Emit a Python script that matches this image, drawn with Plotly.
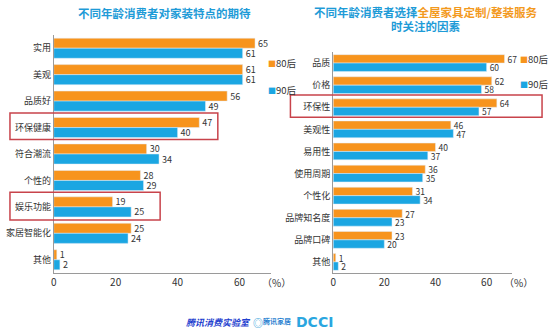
import plotly.graph_objects as go

# Left chart data
left_cats = ["实用", "美观", "品质好", "环保健康", "符合潮流", "个性的", "娱乐功能", "家居智能化", "其他"]
left_80 = [65, 61, 56, 47, 30, 28, 19, 25, 1]
left_90 = [61, 61, 49, 40, 34, 29, 25, 24, 2]

# Right chart data
right_cats = ["品质", "价格", "环保性", "美观性", "易用性", "使用周期", "个性化", "品牌知名度", "品牌口碑", "其他"]
right_80 = [67, 62, 64, 46, 40, 36, 31, 27, 23, 1]
right_90 = [60, 58, 57, 47, 37, 35, 34, 23, 20, 2]

series_names = ["80后", "90后"]
tick_vals = [0, 20, 40, 60]

ORANGE = "#F7941D"
BLUE = "#1BA6E2"
TITLE_BLUE = "#1E9BD7"
FONT = "Noto Sans CJK SC"
W, H = 550, 330

fig = go.Figure()
def common(size):
    return dict(orientation="h", textposition="outside", cliponaxis=False, constraintext="none",
                textfont=dict(size=size, color="#333333", family=FONT), showlegend=False)

fig.add_trace(go.Bar(y=left_cats, x=left_80, name=series_names[0], marker_color=ORANGE,
                     text=left_80, xaxis="x", yaxis="y", **common(9)))
fig.add_trace(go.Bar(y=left_cats, x=left_90, name=series_names[1], marker_color=BLUE,
                     text=left_90, xaxis="x", yaxis="y", **common(9)))
fig.add_trace(go.Bar(y=right_cats, x=right_80, name=series_names[0], marker_color=ORANGE,
                     text=right_80, xaxis="x2", yaxis="y2", **common(8.5)))
fig.add_trace(go.Bar(y=right_cats, x=right_90, name=series_names[1], marker_color=BLUE,
                     text=right_90, xaxis="x2", yaxis="y2", **common(8.5)))

def px_x(p):
    return p / W

def px_y(p):
    return 1 - p / H

xax = dict(range=[0, 70], tickvals=tick_vals, showgrid=False, zeroline=False,
           showline=True, linecolor="#9a9a9a", linewidth=1,
           ticks="", tickfont=dict(size=10, color="#333333", family=FONT), fixedrange=True)
yax = dict(autorange="reversed", showgrid=False, zeroline=False, showline=True,
           linecolor="#9a9a9a", linewidth=1, ticks="",
           tickfont=dict(size=9, color="#333333", family=FONT), fixedrange=True)

fig.update_layout(
    width=W, height=H,
    margin=dict(l=0, r=0, t=0, b=0),
    paper_bgcolor="white", plot_bgcolor="white",
    barmode="group", bargap=0.24, bargroupgap=0,
    font=dict(family=FONT, color="#333333"),
    xaxis=dict(domain=[px_x(51), px_x(269)], anchor="y", **xax),
    yaxis=dict(domain=[px_y(273), px_y(35)], anchor="x", **yax),
    xaxis2=dict(domain=[px_x(332), px_x(512)], anchor="y2", **xax),
    yaxis2=dict(domain=[px_y(273), px_y(52)], anchor="x2", **yax),
    showlegend=False,
)

def ann(x, y, text, size=10, color="#333333", xanchor="center", family=FONT):
    fig.add_annotation(x=px_x(x), y=px_y(y), xref="paper", yref="paper", showarrow=False,
                       text=text, xanchor=xanchor, yanchor="middle",
                       font=dict(size=size, color=color, family=family))

# Titles
ann(162, 13, "<b>不同年龄消费者对家装特点的期待</b>", 11.5, TITLE_BLUE)
ann(425, 12, "<b>不同年龄消费者选择<span style='color:#F39A1E'>全屋家具定制/整装服务</span></b>", 11.5, TITLE_BLUE)
ann(425, 26, "<b>时关注的因素</b>", 11.5, TITLE_BLUE)

# Legends
legend_pos = [(264, 63, 90), (518, 59, 84)]
for lx, y80, y90 in legend_pos:
    for name, col, yy in ((series_names[0], ORANGE, y80), (series_names[1], BLUE, y90)):
        ann(lx, yy, f"<span style='color:{col};font-size:8px'>■</span>{name}", 9.5, "#333333", "left")

# (%) units
for xp in (258, 502):
    ann(xp, 282, "（%）", 10, "#333333", "left")

# Red highlight boxes (category positions)
box = dict(type="rect", line=dict(color="#C8434B", width=1.5), fillcolor="rgba(0,0,0,0)", layer="above")
fig.add_shape(xref="paper", yref="y", x0=px_x(7), x1=px_x(216), y0=2.45, y1=3.45, **box)
fig.add_shape(xref="paper", yref="y", x0=px_x(7), x1=px_x(158), y0=5.45, y1=6.5, **box)
fig.add_shape(xref="paper", yref="y2", x0=px_x(289), x1=px_x(542), y0=1.45, y1=2.45, **box)

# Footer logos as text
ann(217, 322, "<b><i>腾讯消费实验室</i></b>", 9, "#1F3FCF")
ann(256, 322, "◎", 10, "#2A9BD8")
ann(275, 321, "<b>腾讯家居</b>", 7, "#2A7FD0")
ann(313, 322, "<b>DCCI</b>", 14, "#2AA6E0", family="DejaVu Sans")

fig.write_html("out.html")
